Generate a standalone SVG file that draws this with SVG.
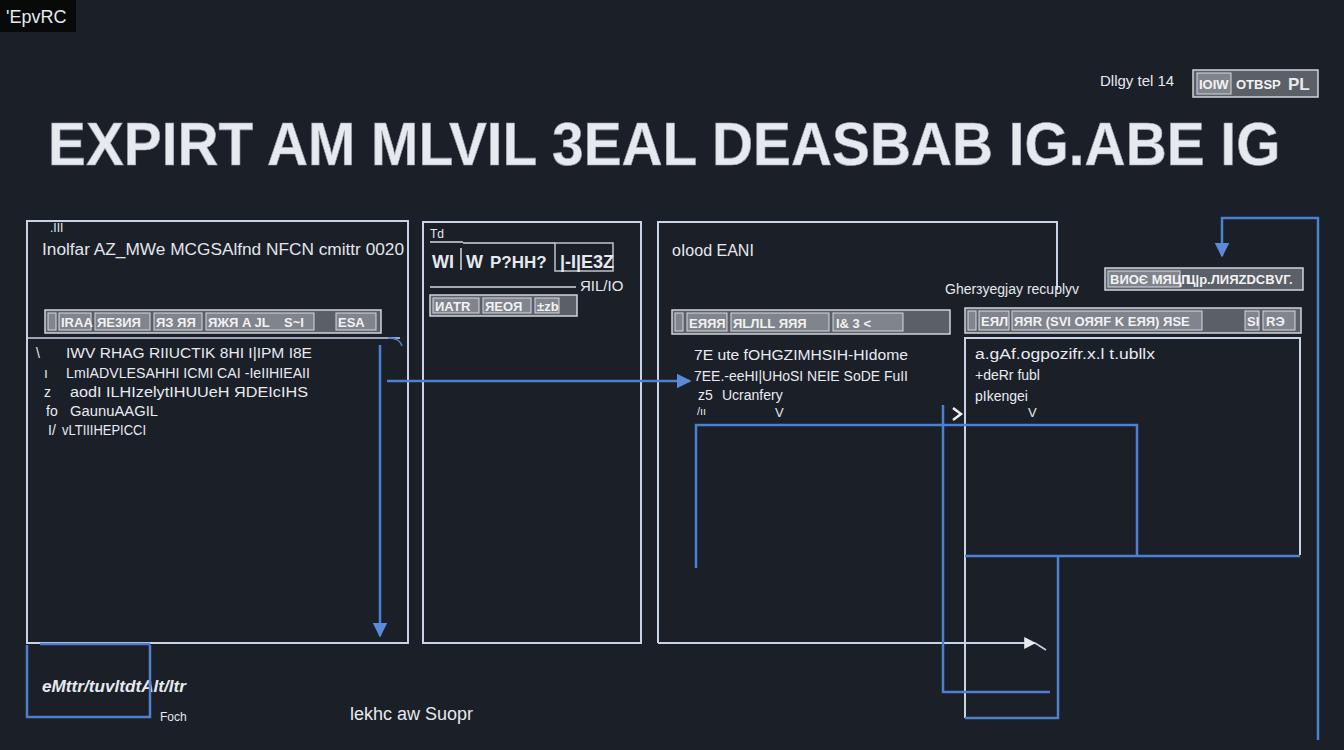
<svg xmlns="http://www.w3.org/2000/svg" width="1344" height="750" viewBox="0 0 1344 750">
<defs>
<style>
text{font-family:"Liberation Sans",Arial,sans-serif;fill:#e6e9ee}
.box{fill:none;stroke:#c9d3e6;stroke-width:2}
.blue{fill:none;stroke:#4f7fd0;stroke-width:2.5}
.tb{fill:#5b5f67;stroke:#cfd3da;stroke-width:1.5}
.cell{fill:#80848c;stroke:#d6d9de;stroke-width:1}
.tbt{font-size:13px;font-weight:bold;fill:#f2f2f2}
.body{font-size:14px;fill:#e8ebf0}
.lbl{font-size:16px;fill:#e2e6ec}
</style>
<marker id="ah" viewBox="0 0 10 10" refX="9" refY="5" markerWidth="6" markerHeight="6" orient="auto-start-reverse"><path d="M0,0 L10,5 L0,10 z" fill="#5b8ad8"/></marker>
<marker id="aw" viewBox="0 0 10 10" refX="9" refY="5" markerWidth="6" markerHeight="6" orient="auto"><path d="M0,0 L10,5 L0,10 z" fill="#e6e9ee"/></marker>
</defs>
<rect width="1344" height="750" fill="#1a1f28"/>

<g id="badge">
<rect x="0" y="0" width="76" height="32" fill="#080909"/>
<text x="6" y="23" font-size="18">'EpvRC</text>
</g>

<g id="title">
<text x="48" y="165" font-size="56" font-weight="bold" fill="#f4f4f4" stroke="#9aa0a8" stroke-width="0.6" transform="translate(48,0) scale(1.015,1.1) translate(-48,-15)">EXPIRT AM MLVIL  3EAL DEASBAB IG.ABE IG</text>
</g>

<g id="legend">
<text x="1100" y="86" font-size="15" fill="#c8ccd2">Dllgy tel  14</text>
<rect x="1193" y="70" width="125" height="27" class="tb"/>
<rect x="1197" y="73" width="34" height="21" class="cell"/>
<text x="1199" y="89" class="tbt">IOIW</text>
<text x="1236" y="89" class="tbt">OTBSP</text>
<text x="1288" y="90" font-size="17" font-weight="bold" fill="#f2f2f2">PL</text>
</g>

<g id="nodeA">
<rect x="27" y="221" width="381" height="422" class="box"/>
<text x="50" y="232" font-size="12">.III</text>
<text x="42" y="255" class="lbl" textLength="362" lengthAdjust="spacingAndGlyphs">Inolfar AZ_MWe MCGSAlfnd NFCN   cmittr 0020</text>
<rect x="45" y="310" width="336" height="23" class="tb"/>
<rect x="48" y="313" width="8" height="17" class="cell"/>
<rect x="59" y="313" width="32" height="17" class="cell"/>
<rect x="95" y="313" width="55" height="17" class="cell"/>
<rect x="154" y="313" width="48" height="17" class="cell"/>
<rect x="206" y="313" width="108" height="17" class="cell"/>
<rect x="336" y="313" width="40" height="17" class="cell"/>
<text x="61" y="327" class="tbt">IRAA</text>
<text x="97" y="327" class="tbt">ЯЕ3ИЯ</text>
<text x="156" y="327" class="tbt">ЯЗ ЯЯ</text>
<text x="208" y="327" class="tbt">ЯЖЯ A JL</text>
<text x="284" y="327" class="tbt">S~I</text>
<text x="338" y="327" class="tbt">ESA</text>
<line x1="27" y1="338" x2="400" y2="338" stroke="#c9d3e6" stroke-width="1.5"/>
<text x="36" y="358" class="body">\</text>
<text x="66" y="358" class="body" textLength="246" lengthAdjust="spacingAndGlyphs">IWV RHAG RIIUCTIK 8HI I|IPM I8E</text>
<text x="44" y="378" class="body">ı</text>
<text x="66" y="378" class="body" textLength="244" lengthAdjust="spacingAndGlyphs">LmIADVLESAHHI ICMI CAI -IeIIHIEAII</text>
<text x="44" y="397" class="body">z</text>
<text x="70" y="397" class="body" textLength="238" lengthAdjust="spacingAndGlyphs">aodI ILHIzelytIHUUeH  ЯDEIcIHS</text>
<text x="46" y="416" class="body">fo</text>
<text x="70" y="416" class="body" textLength="88" lengthAdjust="spacingAndGlyphs">GaunuAAGIL</text>
<text x="48" y="435" class="body">I/</text>
<text x="62" y="435" class="body" textLength="84" lengthAdjust="spacingAndGlyphs">vLTIIIHEPICCI</text>
</g>

<g id="nodeA2">
<text x="42" y="692" font-size="17" font-style="italic" font-weight="bold" fill="#3f6fc2" textLength="144" lengthAdjust="spacingAndGlyphs">eMttr/tuvltdtAlt/ltr</text>
<text x="160" y="721" font-size="12" fill="#9fb3d8">Foch</text>
</g>

<g id="caption">
<text x="350" y="720" font-size="18" fill="#c3c7cd">lekhc aw Suopr</text>
</g>

<g id="nodeB">
<rect x="423" y="222" width="218" height="421" class="box"/>
<text x="430" y="238" font-size="12">Td</text>
<line x1="430" y1="242" x2="463" y2="242" stroke="#d6d9de" stroke-width="1.5"/>
<line x1="463" y1="243" x2="555" y2="243" stroke="#d6d9de" stroke-width="1.5"/>
<rect x="555" y="243" width="58" height="28" fill="none" stroke="#c0c4cc" stroke-width="1.5"/>
<text x="432" y="268" font-size="18" font-weight="bold">WI</text>
<line x1="461" y1="248" x2="461" y2="270" stroke="#d6d9de" stroke-width="1.5"/>
<text x="466" y="268" font-size="18" font-weight="bold" fill="#e8e27a">W</text>
<text x="490" y="268" font-size="17" font-weight="bold">P?HH?</text>
<text x="560" y="268" font-size="18" font-weight="bold">|-I|E3Z</text>
<line x1="430" y1="287" x2="576" y2="287" stroke="#d6d9de" stroke-width="1.5"/>
<text x="580" y="291" font-size="15" fill="#e8e27a">ЯIL/IO</text>
<rect x="430" y="295" width="147" height="21" class="tb"/>
<rect x="433" y="298" width="46" height="15" class="cell"/>
<rect x="483" y="298" width="48" height="15" class="cell"/>
<rect x="535" y="298" width="24" height="15" class="cell"/>
<text x="435" y="311" class="tbt" font-size="11">ИАТR</text>
<text x="485" y="311" class="tbt" font-size="11">ЯЕОЯ</text>
<text x="537" y="311" class="tbt" font-size="11">±zb</text>
</g>

<g id="nodeC">
<path d="M658,643 V222 H1057 V290" class="box"/>
<text x="672" y="256" font-size="16">oIood EANI</text>
<rect x="672" y="310" width="278" height="24" class="tb"/>
<rect x="675" y="313" width="8" height="18" class="cell"/>
<rect x="687" y="313" width="40" height="18" class="cell"/>
<rect x="731" y="313" width="98" height="18" class="cell"/>
<rect x="833" y="313" width="70" height="18" class="cell"/>
<text x="689" y="328" class="tbt">ЕЯЯЯ</text>
<text x="733" y="328" class="tbt" font-size="14">ЯLЛLL ЯЯЯ</text>
<text x="836" y="328" class="tbt">I&amp; 3 &lt;</text>
<text x="694" y="360" class="body" textLength="214" lengthAdjust="spacingAndGlyphs">7E  ute fOHGZIMHSIH-HIdome</text>
<text x="694" y="381" class="body" textLength="214" lengthAdjust="spacingAndGlyphs">7EE.-eeHI|UHoSI NEIE SoDE FuII</text>
<text x="698" y="400" class="body">z5</text>
<text x="722" y="400" class="body">Ucranfery</text>
<text x="697" y="415" font-size="11">/ıı</text>
<text x="775" y="417" font-size="13">V</text>
</g>

<g id="nodeD">
<text x="945" y="294" font-size="14" fill="#d2d6dc">Gherзyegjay recuplyv</text>
<rect x="1105" y="268" width="198" height="22" class="tb"/>
<rect x="1108" y="271" width="72" height="16" class="cell"/>
<text x="1110" y="284" class="tbt" font-size="12">ВИОЄ МЯЦП</text>
<text x="1186" y="284" class="tbt" font-size="12">Ц|р.ЛИЯZDCВVГ.</text>
<rect x="965" y="308" width="336" height="25" class="tb"/>
<rect x="968" y="311" width="8" height="19" class="cell"/>
<rect x="979" y="311" width="30" height="19" class="cell"/>
<rect x="1012" y="311" width="190" height="19" class="cell"/>
<rect x="1245" y="311" width="14" height="19" class="cell"/>
<rect x="1263" y="311" width="32" height="19" class="cell"/>
<text x="981" y="326" class="tbt">ЕЯЛ</text>
<text x="1014" y="326" class="tbt">ЯЯR (SVl ОЯЯF K ЕЯЯ) ЯSE</text>
<text x="1247" y="326" class="tbt">SI</text>
<text x="1266" y="326" class="tbt">RЭ</text>
<path d="M965,718 V338 H1300 V555" class="box"/>
<text x="975" y="359" class="body" textLength="180" lengthAdjust="spacingAndGlyphs">a.gAf.ogpozifr.x.l t.ubllx</text>
<text x="975" y="380" class="body">+deRr fubl</text>
<text x="975" y="401" class="body">pIkengei</text>
<text x="1028" y="417" font-size="13">V</text>
</g>

<g id="connectors">
<line x1="387" y1="381" x2="690" y2="381" class="blue" marker-end="url(#ah)"/>
<path d="M380,345 V636" class="blue" marker-end="url(#ah)"/>
<path d="M388,338 Q400,338 402,346" fill="none" stroke="#4f7fd0" stroke-width="1.5"/>
<path d="M27,645 V717 H150 V645 M40,644 H150" class="blue"/>
<path d="M658,643 H1035" class="box" marker-end="url(#aw)"/>
<path d="M1035,643 L1046,650" fill="none" stroke="#c9d3e6" stroke-width="1.5"/>
<path d="M696,568 V425 H1137 V556" class="blue"/>
<path d="M965,556 H1300" class="blue"/>
<path d="M943,405 V692 H1050" class="blue"/>
<path d="M965,718 H1058 V556" class="blue"/>
<path d="M1318,740 V218 H1222 V256" class="blue" marker-end="url(#ah)"/>
<path d="M953,408 L961,414 L953,420" fill="none" stroke="#eef0f3" stroke-width="2.5"/>
</g>
</svg>
